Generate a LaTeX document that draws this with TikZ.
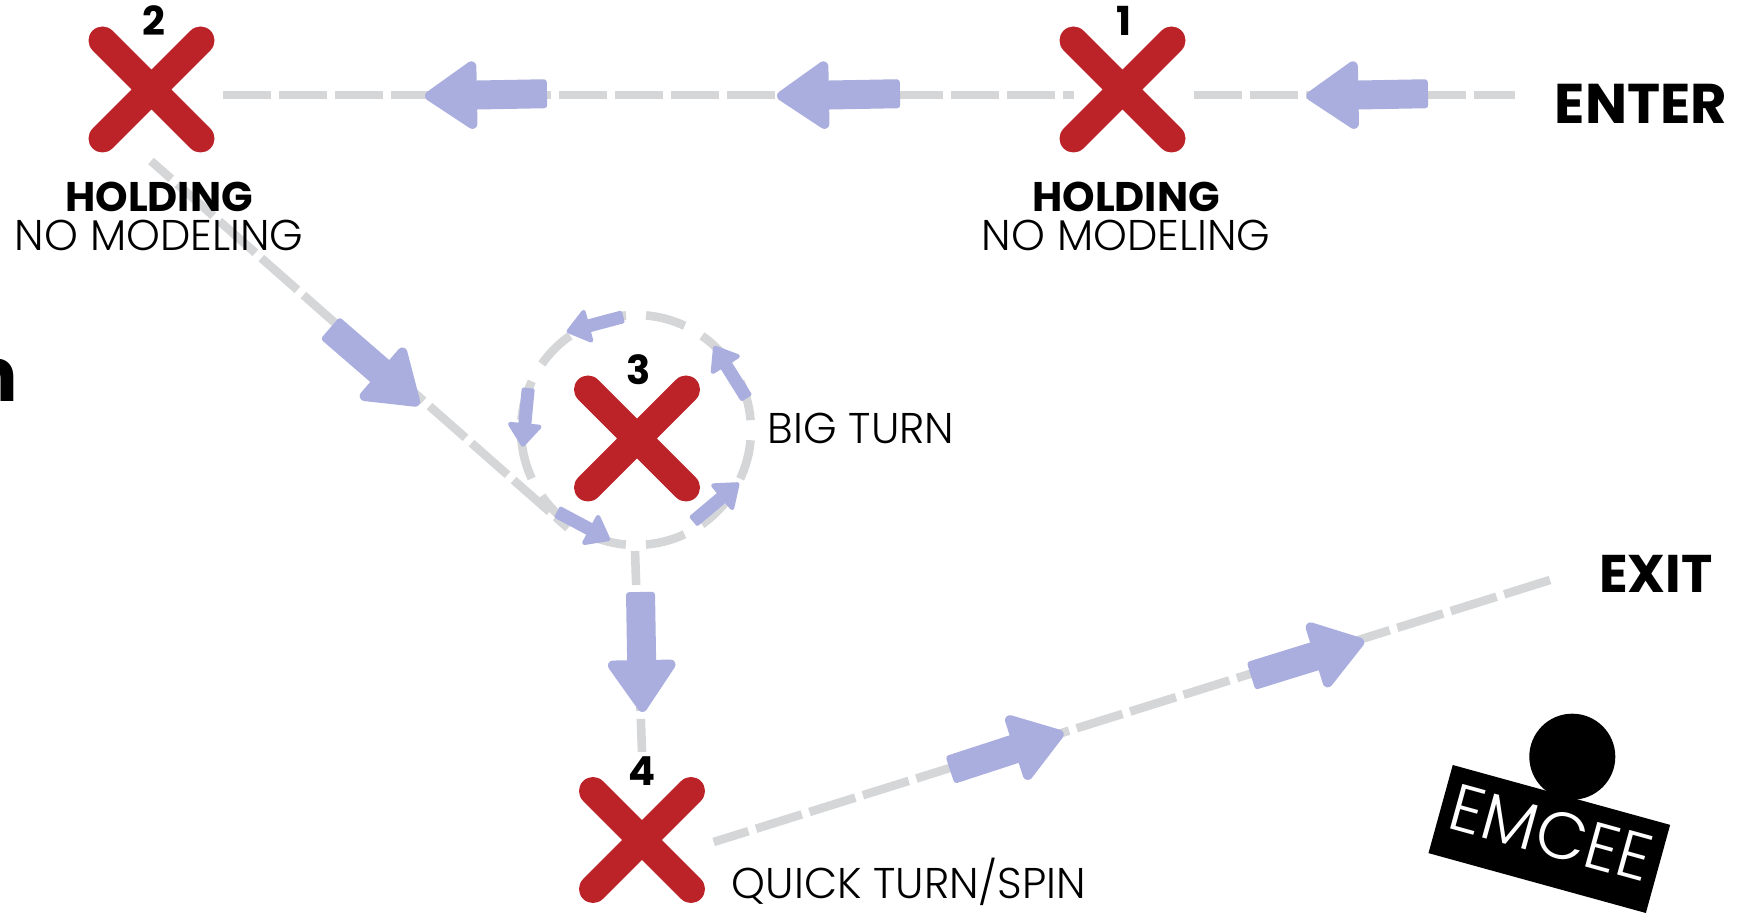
\documentclass[tikz,border=0pt]{standalone}
\usepackage{fontspec}
\setmainfont{Poppins}[UprightFont=* Light,BoldFont=* Bold]
\usetikzlibrary{arrows.meta,calc}
\definecolor{xred}{HTML}{BC2329}
\definecolor{arrowblue}{HTML}{AAAEDF}
\definecolor{pathgrey}{HTML}{D5D6D8}
\tikzset{
  x=0.5pt,y=-0.5pt,
  crossbox/.style={minimum size=49pt,inner sep=0pt,outer sep=0pt},
  crossline/.style={xred,line width=14pt,line cap=round},
  route/.style={pathgrey,line width=4.3pt,dash pattern=on 24pt off 4pt},
  bigarrow/.style={arrowblue,line width=14.5pt,
    {Square[round,length=6pt,width=14.5pt,line width=6pt]}-{Triangle[round,length=28pt,width=37pt,line width=5pt]}},
  smallarrow/.style={arrowblue,line width=6.5pt,
    {Square[round,length=3pt,width=6.5pt,line width=2.5pt]}-{Triangle[round,length=12.5pt,width=18.5pt,line width=2.2pt]}},
  num/.style={font=\fontsize{20}{20}\selectfont\bfseries,inner sep=0pt},
  hold/.style={font=\fontsize{20.7}{20.7}\selectfont\bfseries,inner sep=0pt},
  sub/.style={font=\fontsize{21.5}{21.5}\selectfont,inner sep=0pt},
  head/.style={font=\fontsize{28}{28}\selectfont\bfseries,inner sep=0pt},
}
\begin{document}
\begin{tikzpicture}
\useasboundingbox (0,0) rectangle (1753,913);
% positions
\node[crossbox] (x1) at (1122.5,89.5) {};
\node[crossbox] (x2) at (151.5,89.5) {};
\node[crossbox] (x3) at (637,438.5) {};
\node[crossbox] (x4) at (642,840) {};
\coordinate (r0) at (1515,95);
\coordinate (r1a) at (1194,95);
\coordinate (r1b) at (1074,95);
\coordinate (r2a) at (223,95);
\coordinate (r2b) at (151,161);
\coordinate (r3a) at (568,528);
\coordinate (c3) at (636,430);
\coordinate (r3b) at (635,551);
\coordinate (r4a) at (642,752);
\coordinate (r4b) at (713.7,842);
\coordinate (r5) at (1550,580);
% grey routes
\draw[route] (r1a) -- (r0);
\draw[route] (r2a) -- (r1b);
\draw[route,dash phase=10.5pt] (r2b) -- (r3a);
\draw[route,dash pattern=on 20.07pt off 10.03pt] ($(c3)+(114.56,-10)$) arc[start angle=-5,delta angle=-360,radius=115];
\draw[route,dash pattern=on 17pt off 4pt] (r3b) -- (r4a);
\draw[route] (r5) -- (r4b);
% blue arrows
\coordinate (a1t) at (1428,93.7); \coordinate (a1h) at (1306.5,96);
\coordinate (a2t) at (900,93.7);  \coordinate (a2h) at (777,96);
\coordinate (a3t) at (547,93.7);  \coordinate (a3h) at (425,96);
\coordinate (a4t) at (330,328); \coordinate (a4h) at (419,405);
\coordinate (a5t) at (640.5,592); \coordinate (a5h) at (642.5,712);
\coordinate (a6t) at (950,770); \coordinate (a6h) at (1063.5,733);
\coordinate (a7t) at (1251,676);\coordinate (a7h) at (1364,641);
\foreach \p in {1,...,7}{\draw[bigarrow] (a\p t) -- (a\p h);}
\coordinate (b1t) at (623.3,316.7); \coordinate (b1h) at (566.7,331.7);
\coordinate (b2t) at (528.3,388);   \coordinate (b2h) at (522.7,446.7);
\coordinate (b3t) at (557,511.7);   \coordinate (b3h) at (610,540);
\coordinate (b4t) at (693,521.7);   \coordinate (b4h) at (739,483);
\coordinate (b5t) at (746.7,398.3); \coordinate (b5h) at (714,346);
\foreach \p in {1,...,5}{\draw[smallarrow] (b\p t) -- (b\p h);}
% crosses
\foreach \n in {x1,x2,x3,x4}{
  \draw[crossline] (\n.north west) -- (\n.south east) (\n.north east) -- (\n.south west);
}
% text
\node[num] (n1) at (1124,21) {1};
\node[num] (n2) at (154,21) {2};
\node[num] (n3) at (639,370) {3};
\node[num] (n4) at (642,771) {4};
\node[hold] (h2) at (159,197) {HOLDING};
\node[sub] (s2) at (159,235) {NO MODELING};
\node[hold] (h1) at (1126,197) {HOLDING};
\node[sub] (s1) at (1126,235) {NO MODELING};
\node[head] (enter) at (1641,104) {ENTER};
\node[head,font=\fontsize{26.5}{26.5}\selectfont\bfseries] (exit) at (1656,574) {EXIT};
\node[sub] (big) at (861,428.5) {BIG TURN};
\node[sub] (quick) at (909,882) {QUICK TURN/SPIN};
\node[font=\fontsize{37.5}{37.5}\selectfont\bfseries,inner sep=0pt,anchor=base east] (cut) at (18.5,402) {n};
% emcee
\node[circle,fill=black,minimum size=86pt,inner sep=0pt,scale=0.5] (emhead) at (1572.3,756.7) {};
\node[fill=black,minimum width=112.75pt,minimum height=45.7pt,inner sep=0pt,rotate=-15.4] (embox) at (1549.3,839) {};
\node[text=white,rotate=-15.4,inner sep=0pt,font=\fontsize{33}{33}\selectfont] (emcee) at (1551,833) {EMCEE};
\end{tikzpicture}
\end{document}
